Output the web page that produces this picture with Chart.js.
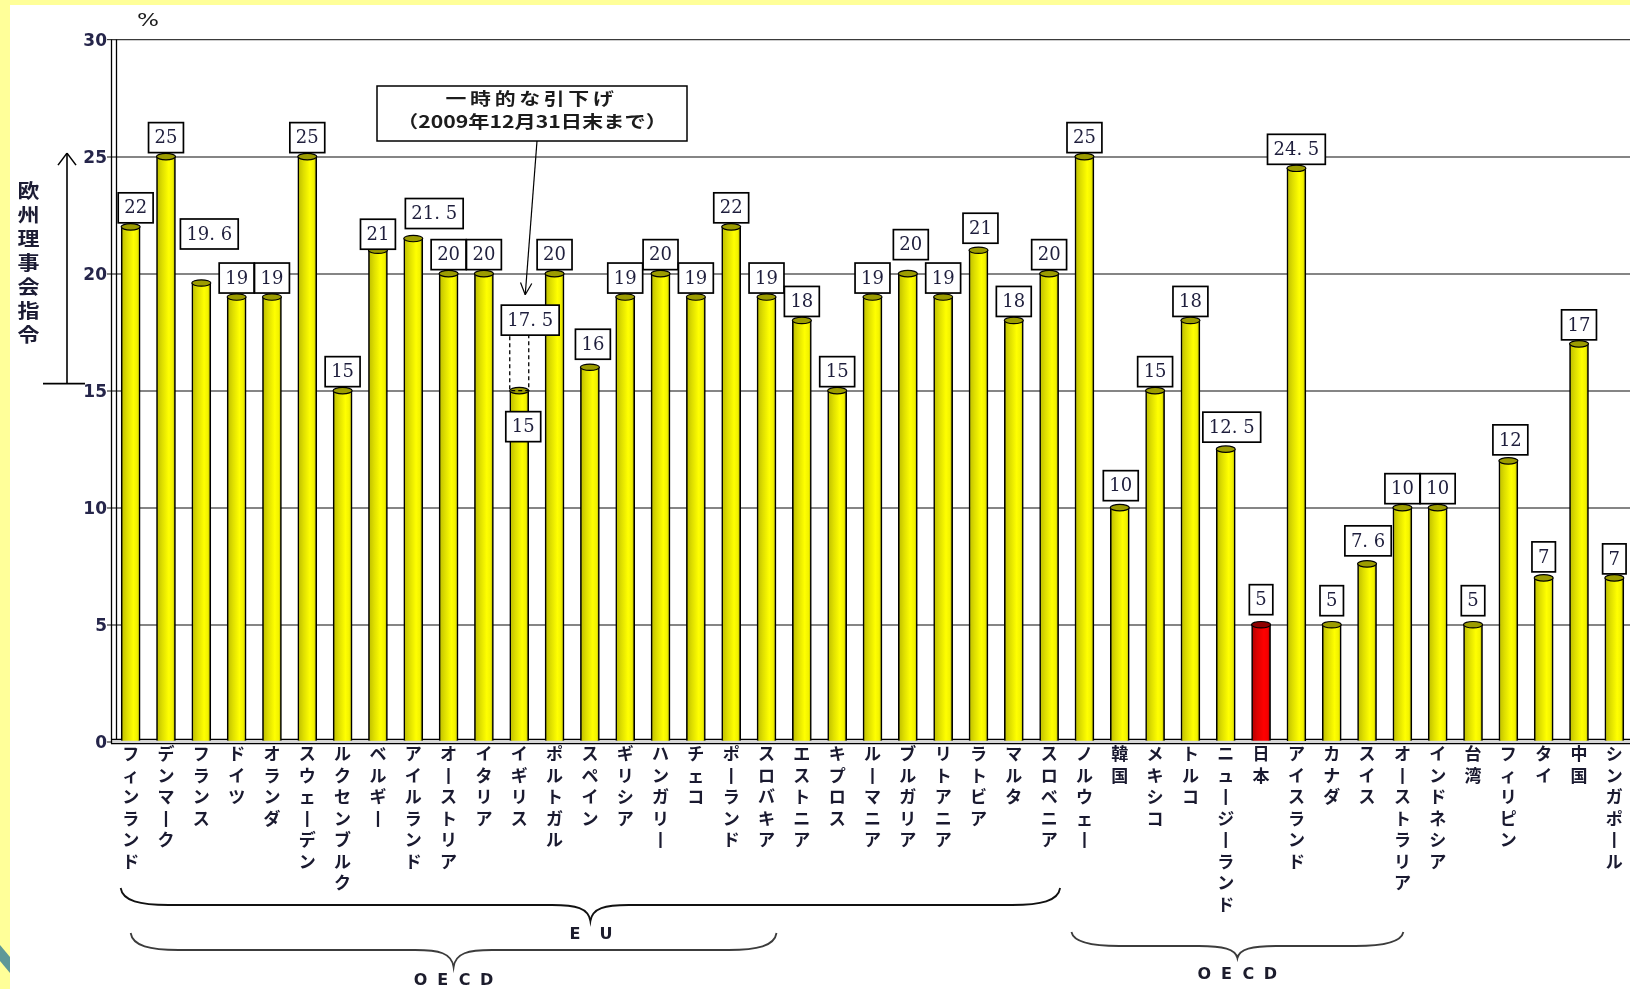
<!DOCTYPE html>
<html lang="ja">
<head>
<meta charset="utf-8">
<title>付加価値税率の国際比較</title>
<script src="https://cdn.jsdelivr.net/npm/chart.js@4.4.1/dist/chart.umd.min.js"></script>
<style>
  html, body { margin: 0; padding: 0; width: 1630px; height: 989px; overflow: hidden; background: #ffff99; }
  #sheet { position: absolute; left: 10px; top: 5px; right: 0; bottom: 0; background: #ffffff; }
  #stripe { position: absolute; left: 0; top: 940px; width: 10px; height: 40px; background: #5e9898;
            clip-path: polygon(0 5px, 10px 17px, 10px 33px, 0 21px); }
  #vat { position: absolute; left: 0; top: 0; }
</style>
</head>
<body>
<div id="sheet"></div>
<div id="stripe"></div>
<canvas id="vat" width="1632" height="989"></canvas>
<script>
// 付加価値税（標準税率）の国際比較
const countries = ['フィンランド', 'デンマーク', 'フランス', 'ドイツ', 'オランダ', 'スウェーデン', 'ルクセンブルク',
  'ベルギー', 'アイルランド', 'オーストリア', 'イタリア', 'イギリス', 'ポルトガル', 'スペイン', 'ギリシア',
  'ハンガリー', 'チェコ', 'ポーランド', 'スロバキア', 'エストニア', 'キプロス', 'ルーマニア', 'ブルガリア',
  'リトアニア', 'ラトビア', 'マルタ', 'スロベニア', 'ノルウェー', '韓国', 'メキシコ', 'トルコ',
  'ニュージーランド', '日本', 'アイスランド', 'カナダ', 'スイス', 'オーストラリア', 'インドネシア', '台湾',
  'フィリピン', 'タイ', '中国', 'シンガポール'];
const vatRates = [22, 25, 19.6, 19, 19, 25, 15, 21, 21.5, 20, 20, 15, 20, 16, 19, 20, 19, 22, 19, 18, 15, 19, 20,
  19, 21, 18, 20, 25, 10, 15, 18, 12.5, 5, 24.5, 5, 7.6, 10, 10, 5, 12, 7, 17, 7];
const yTicks = [0, 5, 10, 15, 20, 25, 30];
const highlightCountry = '日本';

// イギリスは2009年12月31日まで一時的に引下げ（本来は17.5%）
const ukCountry = 'イギリス';
const ukRegularRate = 17.5;

// 欧州理事会指令の範囲（15%以上）
const directiveRange = [15, 25];

// 下の括弧: [表示名, 最初の国, 最後の国]
const braceGroups = [
  ['EU', 'フィンランド', 'スロベニア'],
  ['OECD', 'フィンランド', 'スロバキア'],
  ['OECD', 'ノルウェー', 'オーストラリア']
];

// ---- ここから描画 ----
const barWidth = 19;
const fmt = v => String(v).replace('.', '. ');
// 縦書き用: 長音は縦棒に
const verticalName = name => [...name].map(ch => ch === 'ー' ? '丨' : ch);

// 値ラベルの位置調整 [dx, dy]（隣と重ならないように）
const labelShift = {
  'フィンランド': [5, 0], 'フランス': [8, -30], 'ベルギー': [0, 3], 'アイルランド': [21, -6],
  'イギリス': [4, 55], 'スペイン': [3, -4], 'ブルガリア': [3, -10], 'ラトビア': [2, -3], '韓国': [1, -3],
  'ニュージーランド': [6, -3], '日本': [0, -6], 'カナダ': [0, -5], 'スイス': [1, -4],
  '台湾': [0, -5], 'フィリピン': [2, -2], 'タイ': [0, -2]
};

// 括弧の形 (x方向の余白と高さ)
const braceLayout = [
  { padL: -10, padR: 11, tip: 888, line: 905, cusp: 921, text: 935, pitch: 31, color: '#111' },
  { padL: 0, padR: 10, tip: 933, line: 950, cusp: 967, text: 981, pitch: 22, color: '#3c3c3c' },
  { padL: -13, padR: 1, tip: 932, line: 946, cusp: 958, text: 975, pitch: 22, color: '#3c3c3c' }
];

function cylinderFill(c) {
  const x = c.chart.scales.x.getPixelForValue(c.dataIndex);
  if (!isFinite(x)) return '#ffff00';
  const g = c.chart.ctx.createLinearGradient(x - barWidth / 2, 0, x + barWidth / 2, 0);
  const red = countries[c.dataIndex] === highlightCountry;
  const stops = red
    ? ['#b00000', '#de0000', '#ff0000', '#f20000', '#a00000']
    : ['#bcbc00', '#dede00', '#ffff00', '#f2f200', '#a6a600'];
  [0, 0.3, 0.65, 0.85, 1].forEach((p, k) => g.addColorStop(p, stops[k]));
  return g;
}

function drawValueBox(ctx, text, cx, bottom) {
  ctx.font = '18px "DejaVu Serif", serif';
  const w = ctx.measureText(text).width + 12, h = 30;
  ctx.fillStyle = '#fff';
  ctx.fillRect(cx - w / 2, bottom - h, w, h);
  ctx.lineWidth = 1.7;
  ctx.strokeStyle = '#000';
  ctx.strokeRect(cx - w / 2, bottom - h, w, h);
  ctx.fillStyle = '#1e1e3c';
  ctx.textAlign = 'center';
  ctx.textBaseline = 'middle';
  ctx.fillText(text, cx, bottom - h / 2 + 1);
}

function fitText(ctx, text, cx, cy, width, spacing) {
  ctx.save();
  ctx.letterSpacing = spacing + 'px';
  const m = ctx.measureText(text).width;
  ctx.translate(cx, cy);
  ctx.scale(width / m, 1);
  ctx.fillText(text, 0, 0);
  ctx.restore();
}

function line(ctx, x0, y0, x1, y1) {
  ctx.beginPath();
  ctx.moveTo(x0, y0);
  ctx.lineTo(x1, y1);
  ctx.stroke();
}

function drawBrace(ctx, x0, x1, tip, ln, cusp) {
  const xc = (x0 + x1) / 2, r = Math.min(48, (x1 - x0) / 6);
  ctx.beginPath();
  ctx.moveTo(x0, tip);
  ctx.bezierCurveTo(x0 + 2, ln - 4, x0 + r * 0.4, ln, x0 + r, ln);
  ctx.lineTo(xc - r * 0.8, ln);
  ctx.bezierCurveTo(xc - r * 0.3, ln, xc - 2, ln + 3, xc, cusp);
  ctx.bezierCurveTo(xc + 2, ln + 3, xc + r * 0.3, ln, xc + r * 0.8, ln);
  ctx.lineTo(x1 - r, ln);
  ctx.bezierCurveTo(x1 - r * 0.4, ln, x1 - 2, ln - 4, x1, tip);
  ctx.stroke();
}

const decor = {
  id: 'decor',
  beforeDatasetsDraw(chart) {
    const { ctx, chartArea: a } = chart;
    ctx.save();
    // 床と左の壁
    ctx.fillStyle = '#d6d6d6';
    ctx.fillRect(a.left - 2, a.bottom - 2.5, a.right - a.left + 2, 4.5);
    ctx.strokeStyle = '#000';
    ctx.lineWidth = 1.3;
    line(ctx, a.left - 2, a.bottom - 2.3, a.right, a.bottom - 2.3);
    line(ctx, a.left - 2, a.bottom + 2, a.right, a.bottom + 2);
    line(ctx, a.left - 1.5, a.top, a.left - 1.5, a.bottom + 2);
    line(ctx, a.left + 3.5, a.top, a.left + 3.5, a.bottom - 2.3);
    ctx.restore();
  },
  afterDatasetsDraw(chart) {
    const { ctx } = chart;
    const y = chart.scales.y;
    const meta = chart.getDatasetMeta(0);
    ctx.save();
    // 円柱の天面
    meta.data.forEach((bar, i) => {
      ctx.beginPath();
      ctx.ellipse(bar.x, bar.y, bar.width / 2, 3.2, 0, 0, Math.PI * 2);
      ctx.fillStyle = countries[i] === highlightCountry ? '#8e0000' : '#9c9c00';
      ctx.fill();
      ctx.lineWidth = 1.2;
      ctx.strokeStyle = '#000';
      ctx.stroke();
    });

    // イギリスの本来の税率（点線）
    const ui = countries.indexOf(ukCountry);
    const ub = meta.data[ui];
    const ukTop = y.getPixelForValue(ukRegularRate);
    ctx.setLineDash([4, 3]);
    ctx.lineWidth = 1.3;
    ctx.strokeRect(ub.x - ub.width / 2, ukTop, ub.width, ub.y - ukTop);
    ctx.setLineDash([]);

    // 値ラベル
    meta.data.forEach((bar, i) => {
      const [dx, dy] = labelShift[countries[i]] || [0, 0];
      drawValueBox(ctx, fmt(vatRates[i]), bar.x + dx, bar.y - 4 + dy);
    });
    drawValueBox(ctx, fmt(ukRegularRate), ub.x + 11, ukTop + 3);
    ctx.restore();
  },
  afterDraw(chart) {
    const { ctx } = chart;
    const x = chart.scales.x, y = chart.scales.y;
    ctx.save();
    ctx.strokeStyle = '#000';
    ctx.fillStyle = '#1c1c1c';

    // 単位
    ctx.font = '17px "DejaVu Sans", sans-serif';
    ctx.textAlign = 'center';
    ctx.textBaseline = 'middle';
    fitText(ctx, '%', 148, 22, 22, 0);

    // 吹き出し
    const ub = chart.getDatasetMeta(0).data[countries.indexOf(ukCountry)];
    ctx.fillStyle = '#fff';
    ctx.fillRect(377, 86, 310, 55);
    ctx.lineWidth = 1.5;
    ctx.strokeRect(377, 86, 310, 55);
    ctx.fillStyle = '#1c1c1c';
    ctx.font = 'bold 17px "Noto Sans CJK JP", sans-serif';
    fitText(ctx, '一時的な引下げ', 531.5, 99, 172, 3);
    fitText(ctx, '（2009年12月31日末まで）', 532, 122, 270, 0);
    const sx = 537, sy = 141, tx = ub.x + 6, ty = y.getPixelForValue(19.1);
    ctx.lineWidth = 1.2;
    line(ctx, sx, sy, tx, ty);
    const ang = Math.atan2(ty - sy, tx - sx);
    [0.45, -0.45].forEach(d => line(ctx, tx, ty, tx - 13 * Math.cos(ang + d), ty - 13 * Math.sin(ang + d)));

    // 欧州理事会指令
    ctx.font = 'bold 19px "Noto Sans CJK JP", sans-serif';
    ctx.fillStyle = '#1c1c34';
    [...'欧州理事会指令'].forEach((ch, k) => fitText(ctx, ch, 28.5, 191 + k * 24, 22, 0));
    const aTop = y.getPixelForValue(directiveRange[1]) - 3.5;
    const aBot = y.getPixelForValue(directiveRange[0]) - 7;
    ctx.lineWidth = 1.6;
    line(ctx, 67, aTop, 67, aBot);
    line(ctx, 43, aBot, 85, aBot);
    line(ctx, 58, aTop + 12, 67, aTop);
    line(ctx, 76, aTop + 12, 67, aTop);

    // EU / OECD の括弧
    braceGroups.forEach(([name, from, to], k) => {
      const L = braceLayout[k];
      const x0 = x.getPixelForValue(countries.indexOf(from)) + L.padL;
      const x1 = x.getPixelForValue(countries.indexOf(to)) + L.padR;
      ctx.strokeStyle = L.color;
      ctx.lineWidth = 1.8;
      drawBrace(ctx, x0, x1, L.tip, L.line, L.cusp);
      ctx.font = 'bold 16px "DejaVu Sans", sans-serif';
      ctx.fillStyle = '#1c1c2c';
      const xc = (x0 + x1) / 2;
      [...name].forEach((ch, j) => ctx.fillText(ch, xc + (j - (name.length - 1) / 2) * L.pitch, L.text));
    });
    ctx.restore();
  }
};

const ctx = document.getElementById('vat').getContext('2d');
const vatChart = new Chart(ctx, {
  type: 'bar',
  data: {
    labels: countries.map(verticalName),
    datasets: [{
      data: vatRates,
      backgroundColor: cylinderFill,
      borderColor: '#000',
      borderWidth: 1.6,
      barThickness: barWidth
    }]
  },
  options: {
    responsive: false,
    animation: false,
    layout: { padding: { top: 39.6, right: 0, bottom: 0, left: 0 } },
    plugins: { legend: { display: false }, tooltip: { enabled: false } },
    scales: {
      x: {
        grid: { display: false, drawTicks: false },
        border: { display: false },
        ticks: {
          autoSkip: false, maxRotation: 0, minRotation: 0, padding: 1.5,
          color: '#1a1a30',
          font: { family: '"Noto Sans CJK JP", sans-serif', size: 17, weight: 'bold', lineHeight: '21.5px' }
        },
        afterFit: s => { s.height = 989 - 741.7; }
      },
      y: {
        min: 0, max: 30,
        afterBuildTicks: s => { s.ticks = yTicks.map(v => ({ value: v })); },
        grid: {
          color: c => c.tick && c.tick.value === 30 ? '#3a3a3a' : '#858585',
          lineWidth: c => c.tick && c.tick.value === 30 ? 1.2 : 2,
          tickLength: 6, drawTicks: true
        },
        border: { display: false },
        ticks: {
          padding: 0, labelOffset: 1.5, color: '#25254a',
          font: { family: '"DejaVu Sans", sans-serif', size: 17, weight: 'bold' }
        },
        afterFit: s => { s.width = 113; }
      }
    }
  },
  plugins: [decor]
});
</script>
</body>
</html>
